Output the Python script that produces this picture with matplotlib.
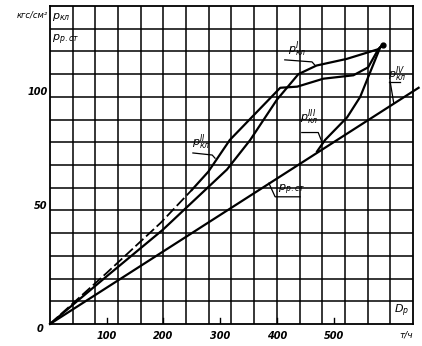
import matplotlib
matplotlib.use("Agg")
import matplotlib.pyplot as plt

# flow D_p (t/h) vs pressure (kgf/cm2)
p_rst_x = [0, 650]
p_rst_y = [0, 104]

p_kl1_x = [0, 100, 199, 312, 353, 400, 438, 470, 523, 579, 587]
p_kl1_y = [0, 21, 41.5, 68, 81, 98.7, 110, 113.8, 116.7, 121, 123]

p_kl2_dash_x = [0, 100, 195, 250]
p_kl2_dash_y = [0, 22.5, 44.5, 59]
p_kl2_x = [250, 279, 317, 406, 436, 482, 535, 561, 579, 587]
p_kl2_y = [59, 67, 81, 104, 104.5, 108, 109.5, 113, 121, 123]

p_kl3_x = [471, 485, 524, 547, 564, 582, 587]
p_kl3_y = [76, 81, 91, 100, 110.5, 121.6, 123]

x_ticks = [100, 200, 300, 400, 500]
y_ticks = [50, 100]

fig = plt.figure(figsize=(4.22, 3.46), dpi=100)
ax = fig.add_axes([0.1185, 0.0636, 0.860, 0.919])
ax.set_xlim(0, 640)
ax.set_ylim(0, 140)

for gx in range(40, 640, 40):
    ax.axvline(gx, color="black", lw=1.1, zorder=1)
for gy in range(10, 140, 10):
    ax.axhline(gy, color="black", lw=1.1, zorder=1)
for s in ax.spines.values():
    s.set_linewidth(1.3)

ax.set_xticks([])
ax.set_yticks([])
tk = dict(fontsize=7, style="italic", fontweight="bold")
for t in x_ticks:
    ax.text(t, -3, str(t), ha="center", va="top", **tk)
    ax.plot([t, t], [0, 2.5], color="black", lw=1)
for t in y_ticks:
    ax.text(-4, t + 2, str(t), ha="right", va="center", **tk)
ax.text(-12, -2, "0", ha="right", va="center", **tk)
ax.text(628, -3, "т/ч", ha="center", va="top", fontsize=6.5, style="italic")
ax.text(620, 2, "$D_р$", ha="center", va="bottom", fontsize=8)
ax.text(-3, 136, "кгс/см²", ha="right", va="center", fontsize=6, style="italic")
ax.text(4, 135, "$p_{кл}$", ha="left", va="center", fontsize=8)
ax.text(4, 125, "$p_{р.ст}$", ha="left", va="center", fontsize=8)

lw = 1.6
ax.plot(p_rst_x, p_rst_y, color="black", lw=lw, clip_on=False, zorder=3)
ax.plot(p_kl1_x, p_kl1_y, color="black", lw=lw, zorder=3)
ax.plot(p_kl2_dash_x, p_kl2_dash_y, color="black", lw=1.3, ls=(0, (6, 2)), zorder=3)
ax.plot(p_kl2_x, p_kl2_y, color="black", lw=lw, zorder=3)
ax.plot(p_kl3_x, p_kl3_y, color="black", lw=lw, zorder=3)
ax.plot([587], [123], "o", color="black", ms=3.5, zorder=4)

# labels with leader lines
lab = dict(fontsize=8, ha="center", va="center", zorder=5)
ax.text(436, 121, "$p^{I}_{кл}$", **lab)
ax.plot([414, 462, 467], [116.3, 115.4, 114], color="black", lw=0.9)
ax.text(266, 80, "$p^{II}_{кл}$", **lab)
ax.plot([252, 286, 291], [75.3, 74.4, 73], color="black", lw=0.9)
ax.text(458, 91, "$p^{III}_{кл}$", **lab)
ax.plot([444, 473, 479], [84.3, 84.3, 80.5], color="black", lw=0.9)
ax.text(426, 59, "$p_{р.ст}$", **lab)
ax.plot([386, 397, 441], [62, 56, 56], color="black", lw=0.9)
ax.text(612, 110, "$p^{IV}_{кл}$", **lab)
ax.plot([598, 617], [106.5, 106.5], color="black", lw=0.9)
ax.plot([600, 606], [106.5, 97.5], color="black", lw=0.9)

fig.savefig("out.png", dpi=100)
